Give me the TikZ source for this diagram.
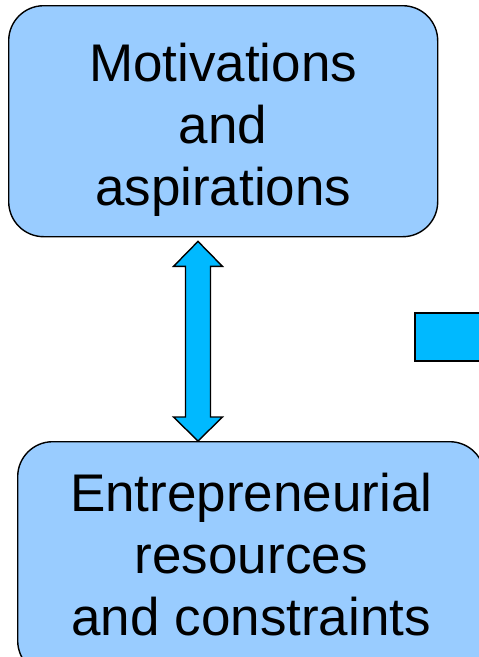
\documentclass[tikz,border=0pt]{standalone}
\usepackage{fontspec}
\setmainfont{Liberation Sans}
\usetikzlibrary{calc}
\definecolor{boxcol}{HTML}{99CCFF}
\definecolor{arrowcol}{HTML}{00B9FF}

\begin{document}
\begin{tikzpicture}[x=1pt,y=-1pt,
	card/.style={draw=black,line width=1.4pt,fill=boxcol,rounded corners=35pt,align=center,inner sep=0pt,font=\fontsize{53}{62}\selectfont},
	dblarrow/.style={draw=black,line width=1.4pt,fill=arrowcol,line join=miter}]
\clip (0,0) rectangle (479,657);
\node[card,minimum width=429pt,text height=200pt,text depth=31pt,anchor=north west] (motiv) at (8,5) {Motivations\\and\\aspirations};
\node[card,minimum width=467pt,text height=194pt,text depth=40pt,anchor=north west] (entre) at (17,441) {Entrepreneurial\\resources\\and constraints};
% two-headed link between the boxes
\coordinate (tipA) at ($(motiv.south west)+(190,4)$);
\coordinate (tipB) at (tipA |- entre.north);
\draw[dblarrow] (tipA) -- ++(24.5,25) -- ++(-12,0) -- ($(tipB)+(12.5,-24)$) -- ++(12,0) -- (tipB)
	-- ++(-24.5,-24) -- ++(12,0) -- ($(tipA)+(-12.5,25)$) -- ++(-12,0) -- cycle;
% shaft of the arrow leaving on the right
\draw[dblarrow,line width=2pt] (415,313) rectangle (495,361);
\end{tikzpicture}
\end{document}
